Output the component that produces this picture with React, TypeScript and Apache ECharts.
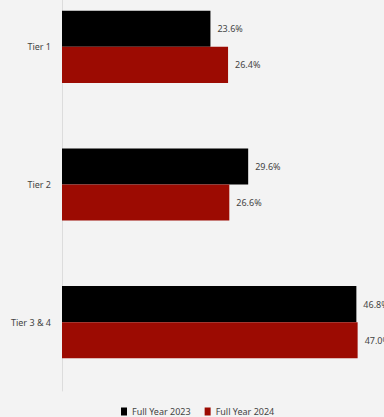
import React, { useEffect, useRef } from "react";
import * as echarts from "echarts";

const categories = ["Tier 1", "Tier 2", "Tier 3 & 4"];
const seriesNames = ["Full Year 2023", "Full Year 2024"];
const values2023 = [23.6, 29.6, 46.8];
const values2024 = [26.4, 26.6, 47.0];

export default function App() {
  const ref = useRef<HTMLDivElement>(null);
  useEffect(() => {
    const chart = echarts.init(ref.current!, null, { renderer: "svg" });
    const font = "'Noto Sans', sans-serif";
    const label = {
      show: true,
      position: "right",
      distance: 7,
      fontSize: 9,
      fontFamily: font,
      color: "#444",
      formatter: (p: any) => Number(p.value).toFixed(1) + "%",
    };
    chart.setOption({
      animation: false,
      backgroundColor: "#f3f3f3",
      grid: { left: 62, right: 7.5, top: 0, bottom: 26, containLabel: false },
      legend: {
        left: 121,
        top: 429,
        padding: 0,
        itemWidth: 6,
        itemHeight: 8,
        itemGap: 14,
        icon: "rect",
        textStyle: { fontSize: 9, fontFamily: font, color: "#444" },
        data: seriesNames,
      },
      xAxis: {
        type: "value",
        min: 0,
        max: 50,
        show: false,
      },
      yAxis: {
        type: "category",
        data: categories,
        inverse: true,
        axisLine: { show: true, lineStyle: { color: "#dcdcdc", width: 1 } },
        axisTick: { show: false },
        axisLabel: { fontSize: 9, fontFamily: font, color: "#444", margin: 11 },
      },
      series: [
        {
          name: seriesNames[0],
          type: "bar",
          data: values2023,
          itemStyle: { color: "#000000" },
          barGap: "0%",
          barCategoryGap: "47.6%",
          label,
        },
        {
          name: seriesNames[1],
          type: "bar",
          data: values2024,
          itemStyle: { color: "#9c0b02" },
          barGap: "0%",
          barCategoryGap: "47.6%",
          label,
        },
      ],
    });
    return () => chart.dispose();
  }, []);
  return (
    <div
      ref={ref}
      style={{ position: "absolute", left: 0, top: -22, width: 384, height: 439 }}
    />
  );
}
